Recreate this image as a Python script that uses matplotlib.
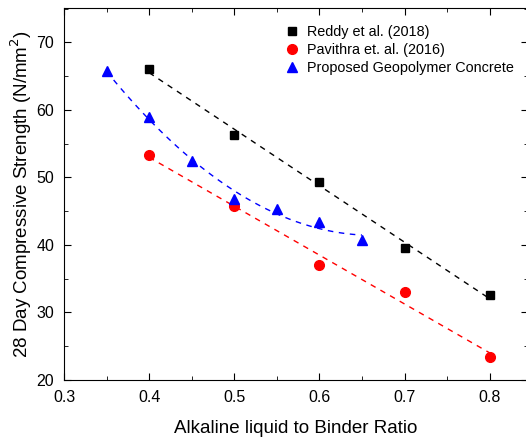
import numpy as np
import matplotlib.pyplot as plt
from matplotlib.ticker import MultipleLocator

plt.rcParams['font.family'] = ['Liberation Sans', 'DejaVu Sans']

# data
x_reddy = [0.4, 0.5, 0.6, 0.7, 0.8]
y_reddy = [66.1, 56.3, 49.3, 39.6, 32.6]
x_pav = [0.4, 0.5, 0.6, 0.7, 0.8]
y_pav = [53.3, 45.7, 37.0, 33.1, 23.4]
x_geo = [0.35, 0.4, 0.45, 0.5, 0.55, 0.6, 0.65]
y_geo = [65.7, 59.0, 52.5, 46.8, 45.3, 43.4, 40.8]

fig = plt.figure(figsize=(5.26, 4.41), dpi=100)
ax = fig.add_axes([64 / 526, 61 / 441, 464 / 526, 372 / 441])

# fitted trend lines
xs = np.linspace(0.4, 0.8, 50)
ax.plot(xs, np.polyval(np.polyfit(x_reddy, y_reddy, 1), xs), '--', color='black', lw=1, dashes=(4, 4))
ax.plot(xs, np.polyval(np.polyfit(x_pav, y_pav, 1), xs), '--', color='red', lw=1, dashes=(4, 4))
xg = np.linspace(0.35, 0.65, 60)
ax.plot(xg, np.polyval(np.polyfit(x_geo, y_geo, 2), xg), '--', color='blue', lw=1, dashes=(4, 4))

ax.plot(x_reddy, y_reddy, 's', color='black', ms=6, ls='none', label='Reddy et al. (2018)')
ax.plot(x_pav, y_pav, 'o', color='red', ms=7, ls='none', label='Pavithra et. al. (2016)')
ax.plot(x_geo, y_geo, '^', color='blue', ms=7.5, ls='none', label='Proposed Geopolymer Concrete')

ax.set_xlim(0.3, 0.845)
ax.set_ylim(20, 75.1)
ax.xaxis.set_major_locator(MultipleLocator(0.1))
ax.xaxis.set_minor_locator(MultipleLocator(0.05))
ax.yaxis.set_major_locator(MultipleLocator(10))
ax.yaxis.set_minor_locator(MultipleLocator(5))
ax.tick_params(which='both', direction='in', top=True, right=True, labelsize=11.5)
ax.tick_params(which='major', length=5, pad=7)
ax.tick_params(which='minor', length=3)
ax.xaxis.set_major_formatter(plt.FuncFormatter(lambda v, p: f'{v:.1f}'))

ax.set_xlabel('Alkaline liquid to Binder Ratio', fontsize=13.5, labelpad=11)
ax.set_ylabel('28 Day Compressive Strength (N/mm$^2$)', fontsize=13.5, labelpad=2)

ax.legend(loc='upper left', bbox_to_anchor=(0.44, 0.99), frameon=False, fontsize=10.4,
          handletextpad=0.3, labelspacing=0.3, handlelength=1.5)

fig.savefig('out.png', dpi=100)
